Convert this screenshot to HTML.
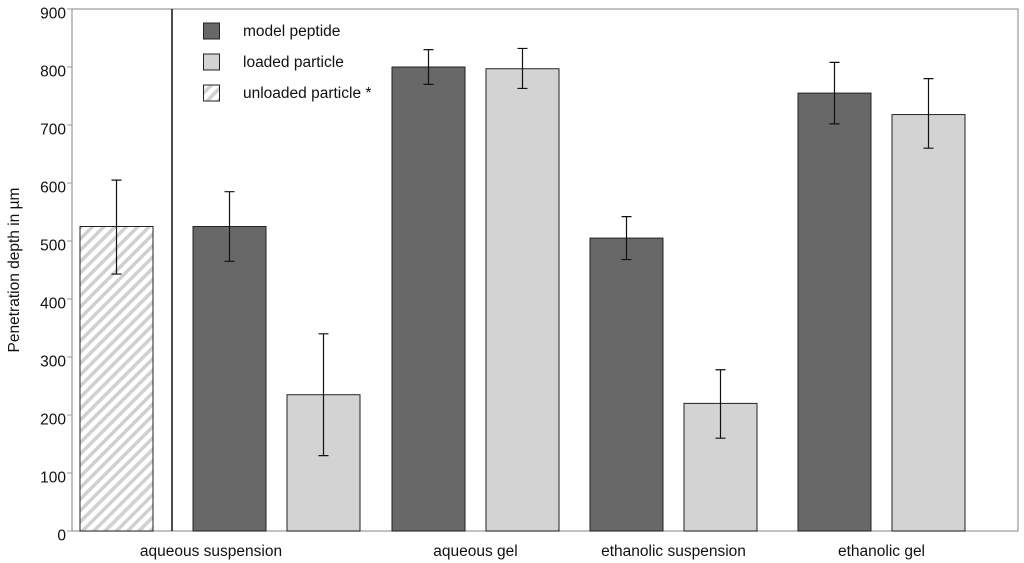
<!DOCTYPE html>
<html><head><meta charset="utf-8"><style>
body{margin:0;background:#fff;font-family:"Liberation Sans",Arial,sans-serif}
svg{display:block}
text{font-family:"Liberation Sans",Arial,sans-serif;fill:#111}
</style></head><body>
<svg id="chart" width="1024" height="563" viewBox="0 0 1024 563">
<defs><pattern id="hatch" patternUnits="userSpaceOnUse" width="8" height="8" patternTransform="rotate(45)"><rect width="8" height="8" fill="#fff"/><rect width="3.5" height="8" fill="#d0d0d0"/></pattern></defs>
<g id="plot"></g>
</svg>
<script>
const categories=["aqueous suspension","aqueous gel","ethanolic suspension","ethanolic gel"];
const peptideVals=[525,800,505,755];
const peptideErrHi=[585,830,542,808];
const peptideErrLo=[465,770,468,702];
const loadedVals=[235,797,220,718];
const loadedErrHi=[340,832,278,780];
const loadedErrLo=[130,763,160,660];
const unloadedVal=[525];
const unloadedErr=[443,605];
const yTicks=[0,100,200,300,400,500,600,700,800,900];

const NS="http://www.w3.org/2000/svg";
const g=document.getElementById('plot');
const X0=72,X1=1018,Y0=531,Y900=9;
const y=v=>Y0-(v/900)*(Y0-Y900);
function el(t,a,p){const e=document.createElementNS(NS,t);for(const k in a)e.setAttribute(k,a[k]);(p||g).appendChild(e);return e;}
const frame=el('rect',{x:X0,y:Y900,width:X1-X0,height:Y0-Y900,fill:'none',stroke:'#999','stroke-width':1.2});


yTicks.forEach(v=>{
  const t=el('line',{x1:X0-5,x2:X0,y1:y(v),y2:y(v),stroke:'#999'});
  
  
  const l=el('text',{x:X0-6,y:y(v)+9.5,'text-anchor':'end','font-size':15.5});
  l.textContent=v;
  
  
});
const yt=el('text',{x:19,y:270,'text-anchor':'middle','font-size':15.5,transform:'rotate(-90 19 270)'});
yt.textContent='Penetration depth in µm';


const dv=el('line',{x1:172,x2:172,y1:Y900,y2:Y0,stroke:'#111','stroke-width':1.5});


function bar(x,v,fill,name){
  const r=el('rect',{x:x,y:y(v),width:73,height:Y0-y(v),fill:fill,stroke:'#222','stroke-width':1});
  
  
}
function err(cx,lo,hi){
  const e=el('path',{d:`M${cx} ${y(hi)}V${y(lo)}M${cx-5} ${y(hi)}H${cx+5}M${cx-5} ${y(lo)}H${cx+5}`,stroke:'#111','stroke-width':1.2,fill:'none'});
  
  
}
bar(80,unloadedVal[0],'url(#hatch)','bar-unloaded-particle');
err(116.5,unloadedErr[0],unloadedErr[1]);
const groupX=[193,392,590,798],gap=94;
categories.forEach((c,i)=>{
  const gx=groupX[i];
  bar(gx,peptideVals[i],'#686868','bar-model-peptide');
  err(gx+36.5,peptideErrLo[i],peptideErrHi[i]);
  bar(gx+gap,loadedVals[i],'#d3d3d3','bar-loaded-particle');
  err(gx+gap+36.5,loadedErrLo[i],loadedErrHi[i]);
  const cx=i===0?211:gx+(gap+73)/2;
  const t=el('text',{x:cx,y:556,'text-anchor':'middle','font-size':15.5});
  t.textContent=c;
  
  
});
const leg=[['model peptide','#686868'],['loaded particle','#d3d3d3'],['unloaded particle *','url(#hatch)']];
leg.forEach((L,i)=>{
  const yy=23+i*31;
  const s=el('rect',{x:203.5,y:yy,width:16,height:16,fill:L[1],stroke:'#222','stroke-width':1});
  
  
  const t=el('text',{x:243,y:yy+13,'font-size':15.5});
  t.textContent=L[0];
  
  
});
</script>
</body></html>
